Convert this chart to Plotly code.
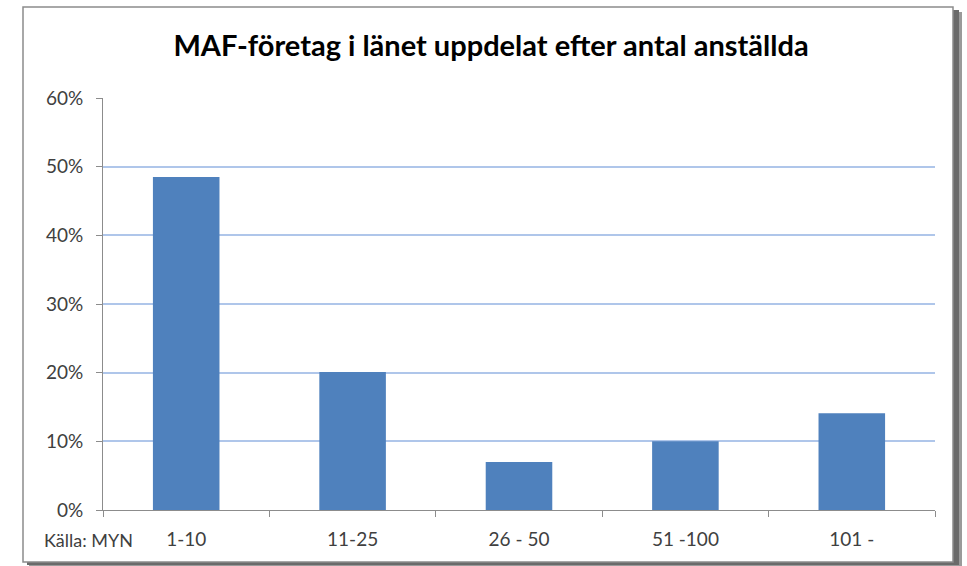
import plotly.graph_objects as go

categories = ["1-10", "11-25", "26 - 50", "51 -100", "101 -"]
values = [0.485, 0.201, 0.070, 0.100, 0.141]
y_ticks = [0, 0.1, 0.2, 0.3, 0.4, 0.5, 0.6]
y_tick_labels = ["0%", "10%", "20%", "30%", "40%", "50%", "60%"]
title_text = "MAF-företag i länet uppdelat efter antal anställda"
source_text = "Källa: MYN"

W, H = 967, 566
L, R, T, B = 103, 32, 98, 56
pw, ph = W - L - R, H - T - B

def px(x):
    return (x - L) / pw

def py(y):
    return (H - B - y) / ph

FONT = "Lato"

fig = go.Figure()
fig.add_trace(go.Bar(
    x=categories, y=values,
    marker=dict(color="#4F81BD", line=dict(width=0)),
    width=0.4,
))

shapes = [
    # shadow
    dict(type="rect", xref="paper", yref="paper",
         x0=px(29), x1=px(962), y0=py(566), y1=py(12),
         fillcolor="#9a9a9a", line=dict(width=0), layer="below"),
    dict(type="rect", xref="paper", yref="paper",
         x0=px(27), x1=px(959), y0=py(565), y1=py(10),
         fillcolor="#6a6a6a", line=dict(width=0), layer="below"),
    # frame
    dict(type="rect", xref="paper", yref="paper",
         x0=px(23), x1=px(953), y0=py(562), y1=py(7),
         fillcolor="white", line=dict(color="#8c8c8c", width=1.5), layer="below"),
]

fig.update_layout(
    width=W, height=H,
    margin=dict(l=L, r=R, t=T, b=B),
    paper_bgcolor="white", plot_bgcolor="white",
    showlegend=False,
    shapes=shapes,
    font=dict(family=FONT, color="#404040", size=19),
    title=dict(text="<b>" + title_text + "</b>", x=px(491), xanchor="center",
               xref="paper", y=1 - 46 / H, yanchor="middle",
               font=dict(family=FONT, size=29, color="#000000")),
    xaxis=dict(
        showgrid=False, showline=True, linecolor="#8c8c8c", linewidth=1,
        ticks="outside", tickson="boundaries", ticklen=6, tickcolor="#8c8c8c",
        tickfont=dict(size=19, color="#404040"), ticklabelstandoff=12,
    ),
    yaxis=dict(
        range=[0, 0.6], tickvals=y_ticks, ticktext=y_tick_labels,
        showgrid=True, gridcolor="#AFC6EA", gridwidth=2,
        showline=True, linecolor="#8c8c8c", linewidth=1,
        ticks="outside", ticklen=6, tickcolor="#8c8c8c",
        tickfont=dict(size=19, color="#404040"), zeroline=False,
        ticklabelstandoff=9,
    ),
    annotations=[
        dict(text=source_text, xref="paper", yref="paper",
             x=px(42), y=py(540), xanchor="left", yanchor="middle",
             showarrow=False, font=dict(family=FONT, size=18, color="#404040")),
    ],
)

fig.write_html(
    "out.html",
    config={"displayModeBar": False},
    post_script="document.body.style.margin='0';document.body.style.overflow='hidden';",
)
